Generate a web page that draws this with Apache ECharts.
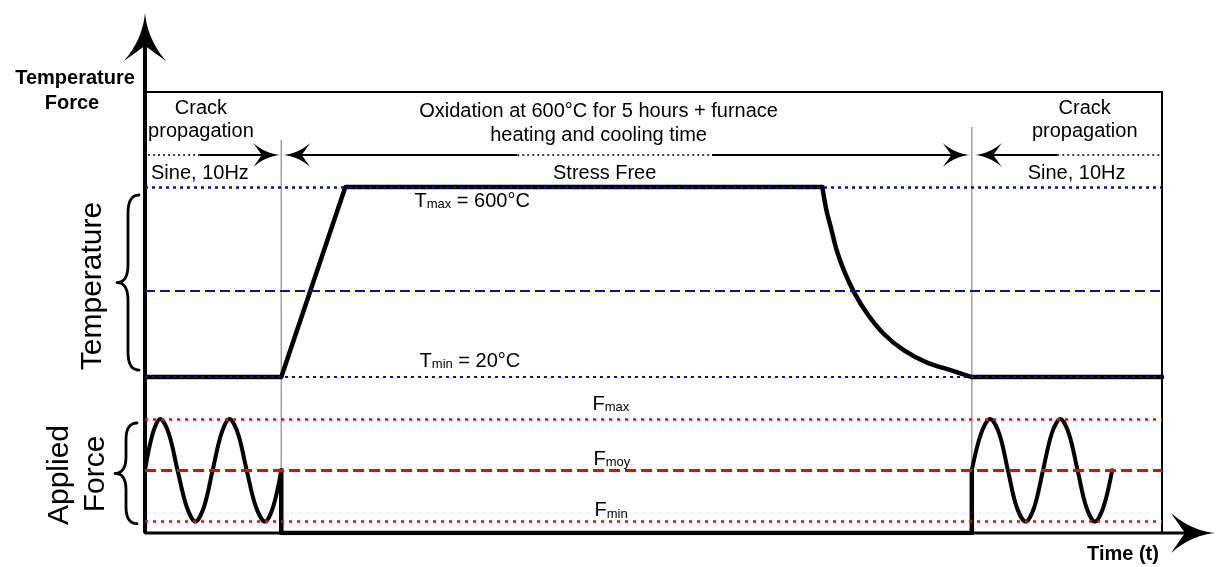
<!DOCTYPE html>
<html>
<head>
<meta charset="utf-8">
<script src="https://cdn.jsdelivr.net/npm/echarts@6/dist/echarts.min.js"></script>
<style>
  html, body { margin: 0; padding: 0; background: #fff; }
  #chart { width: 1219px; height: 567px; }
</style>
</head>
<body>
<div id="chart"></div>
<script>
// Test sequence: crack propagation (sine, 10 Hz) -> stress-free oxidation at 600 °C -> crack propagation.
// Time runs 0–100 in arbitrary units across the box.

// Phase boundaries on the time axis
const PHASE_END_1 = 13.4;
const PHASE_START_2 = 81.3;
const TIME_MAX = 100;

// Temperature levels (°C)
const T_MAX = 600;
const T_MID = 284;
const T_MIN = 20;

// Temperature history: room temperature, heating ramp, hold
const tempHoldX = [0, 13.4, 19.7, 66.6];
const tempHoldY = [20, 20, 600, 600];
// Furnace cooling
const coolingX = [66.6, 67.0, 67.5, 68.0, 68.7, 69.7, 71.0, 72.6, 74.6, 76.9, 79.2, 81.3];
const coolingY = [600, 530, 469, 408, 347, 280, 214, 153, 102, 64, 41, 20];
// Back at room temperature
const tempTailX = [81.3, 100];
const tempTailY = [20, 20];

// Force levels (normalised to Fmax)
const F_MAX = 1.0;
const F_MOY = 0.55;
const F_MIN = 0.1;

// Cyclic loading, first crack-propagation phase
const forceLeftX = [0, 0.75, 1.5, 2.35, 3.2, 4.1, 4.95, 5.8, 6.65, 7.5, 8.3, 9.15, 10.0, 10.9, 11.8, 12.6, 13.4];
const forceLeftY = [0.55, 0.87, 1.0, 0.87, 0.55, 0.23, 0.1, 0.23, 0.55, 0.87, 1.0, 0.87, 0.55, 0.23, 0.1, 0.23, 0.55];
// Unloaded during oxidation
const forceStepX = [13.4, 13.4, 81.3, 81.3];
const forceStepY = [0.55, 0, 0, 0.55];
// Cyclic loading, second crack-propagation phase
const forceRightX = [81.3, 82.2, 83.1, 84.0, 84.85, 85.7, 86.6, 87.45, 88.3, 89.15, 90.0, 90.85, 91.7, 92.55, 93.4, 94.25, 95.1];
const forceRightY = [0.55, 0.87, 1.0, 0.87, 0.55, 0.23, 0.1, 0.23, 0.55, 0.87, 1.0, 0.87, 0.55, 0.23, 0.1, 0.23, 0.55];

const FONT = '"Liberation Sans", Arial, Helvetica, sans-serif';
const BLUE = '#12128a';
const RED = '#ff0000';
const GREY = '#a0a0a0';

const pts = (xs, ys) => xs.map((x, i) => [x, ys[i]]);

const chart = echarts.init(document.getElementById('chart'));

const thick = { color: '#000', width: 4.5, cap: 'round', join: 'round' };
const wave = { color: '#000', width: 4, cap: 'round', join: 'round' };
const quiet = { silent: true, symbol: 'none', label: { show: false }, animation: false };

chart.setOption({
  animation: false,
  grid: {
    left: 145, right: 57, top: 92, bottom: 34,
    show: true, borderColor: '#000', borderWidth: 2, backgroundColor: 'transparent'
  },
  xAxis: { type: 'value', min: 0, max: TIME_MAX, show: false },
  yAxis: [
    { type: 'value', min: -456, max: 890, show: false },
    { type: 'value', min: 0, max: 3.868, show: false }
  ],
  series: [
    {
      type: 'line', yAxisIndex: 0, data: pts(tempHoldX, tempHoldY),
      symbol: 'none', lineStyle: thick, z: 3,
      markLine: Object.assign({}, quiet, {
        data: [
          { yAxis: T_MAX, lineStyle: { color: BLUE, type: [3, 4], width: 2.5 } },
          { yAxis: T_MID, lineStyle: { color: BLUE, type: [10, 5], width: 2 } },
          { yAxis: T_MIN, lineStyle: { color: BLUE, type: [3, 4], width: 2 } }
        ]
      })
    },
    {
      type: 'line', yAxisIndex: 0, data: pts(coolingX, coolingY),
      symbol: 'none', smooth: 0.3, lineStyle: thick, z: 3
    },
    {
      type: 'line', yAxisIndex: 0, data: pts(tempTailX, tempTailY),
      symbol: 'none', lineStyle: thick, z: 3
    },
    {
      type: 'line', yAxisIndex: 1, data: pts(forceLeftX, forceLeftY),
      symbol: 'none', smooth: 0.33, lineStyle: wave, z: 3
    },
    {
      type: 'line', yAxisIndex: 1, data: pts(forceStepX, forceStepY),
      symbol: 'none', lineStyle: thick, z: 3,
      markLine: Object.assign({}, quiet, {
        data: [
          { yAxis: F_MAX, lineStyle: { color: RED, type: [3, 5], width: 2.5 } },
          { yAxis: F_MOY, lineStyle: { color: RED, type: [11, 5], width: 3 } },
          { yAxis: F_MIN, lineStyle: { color: RED, type: [3, 5], width: 2.5 } }
        ]
      })
    },
    {
      type: 'line', yAxisIndex: 1, data: pts(forceRightX, forceRightY),
      symbol: 'none', smooth: 0.33, lineStyle: wave, z: 3
    }
  ]
});

// ---- decorations: axis arrows, phase markers, braces, titles ----
const X = v => chart.convertToPixel({ xAxisIndex: 0 }, v);
const YT = v => chart.convertToPixel({ yAxisIndex: 0 }, v);
const YF = v => chart.convertToPixel({ yAxisIndex: 1 }, v);

function quad(p0, c, p1, n) {
  const out = [];
  for (let i = 1; i <= n; i++) {
    const t = i / n, u = 1 - t;
    out.push([u * u * p0[0] + 2 * u * t * c[0] + t * t * p1[0],
              u * u * p0[1] + 2 * u * t * c[1] + t * t * p1[1]]);
  }
  return out;
}

// Arrowhead with concave flanks and a notched back; tip at (tx, ty)
function arrowHead(tx, ty, angle, L, W) {
  const tip = [0, 0], wa = [-L, -W], notch = [-0.68 * L, 0], wb = [-L, W];
  let p = [tip];
  p = p.concat(quad(tip, [-0.55 * L, -0.12 * W], wa, 12));
  p = p.concat(quad(wa, [-0.78 * L, -0.3 * W], notch, 8));
  p = p.concat(quad(notch, [-0.78 * L, 0.3 * W], wb, 8));
  p = p.concat(quad(wb, [-0.55 * L, 0.12 * W], tip, 12));
  const c = Math.cos(angle), s = Math.sin(angle);
  return {
    type: 'polygon', z: 10,
    shape: { points: p.map(([x, y]) => [tx + x * c - y * s, ty + x * s + y * c]) },
    style: { fill: '#000' }
  };
}

// Curly brace opening to the right, tip pointing left
function brace(xEnd, xBody, xTip, yTop, yBot) {
  const yMid = (yTop + yBot) / 2, r = Math.min(18, (yBot - yTop) / 6);
  let p = [[xEnd, yTop]];
  p = p.concat(quad([xEnd, yTop], [xBody, yTop], [xBody, yTop + r], 8));
  p.push([xBody, yMid - r]);
  p = p.concat(quad([xBody, yMid - r], [xBody, yMid], [xTip, yMid], 8));
  p = p.concat(quad([xTip, yMid], [xBody, yMid], [xBody, yMid + r], 8));
  p.push([xBody, yBot - r]);
  p = p.concat(quad([xBody, yBot - r], [xBody, yBot], [xEnd, yBot], 8));
  return {
    type: 'polyline', z: 10, shape: { points: p },
    style: { stroke: '#000', lineWidth: 2.8, fill: null, lineJoin: 'round', lineCap: 'round' }
  };
}

const seg = (x1, y1, x2, y2, style, z) => ({
  type: 'line', z: z == null ? 6 : z,
  shape: { x1, y1, x2, y2 },
  style: Object.assign({ stroke: '#000', lineWidth: 2 }, style)
});

const txt = (text, x, y, size, opts) => {
  opts = opts || {};
  return {
    type: 'text', x, y, z: 20, rotation: opts.rot || 0,
    style: {
      text,
      font: (opts.bold ? 'bold ' : '') + size + 'px ' + FONT,
      fill: '#000',
      align: opts.align || 'center',
      verticalAlign: 'middle',
      rich: opts.rich
    }
  };
};

const subRich = {
  b: { font: '20px ' + FONT, fill: '#000', verticalAlign: 'bottom' },
  s: { font: '13px ' + FONT, fill: '#000', verticalAlign: 'bottom' }
};
const subText = (main, sub, rest, x, y) =>
  txt('{b|' + main + '}{s|' + sub + '}' + (rest ? '{b|' + rest + '}' : ''), x, y, 20, { align: 'left', rich: subRich });

const x0 = X(0), xB1 = X(PHASE_END_1), xB2 = X(PHASE_START_2), xRight = X(TIME_MAX);
const yBase = YF(0);
const ROW = 155;
const dotted = { lineWidth: 1.5, lineDash: [2, 3] };

const g = [];

// Axes with arrowheads
g.push(seg(x0, yBase, x0, 40, { lineWidth: 4 }, 1));
g.push(arrowHead(x0, 13, -Math.PI / 2, 48, 21));
g.push(seg(x0, yBase, 1195, yBase, { lineWidth: 3 }, 1));
g.push(arrowHead(1215, yBase, 0, 44, 20));

// Phase separators
g.push(seg(xB1, 140, xB1, yBase, { stroke: GREY, lineWidth: 1.5 }, 1));
g.push(seg(xB2, 127, xB2, yBase, { stroke: GREY, lineWidth: 1.5 }, 1));

// Phase duration arrows
g.push(seg(X(0.3), ROW, X(5.4), ROW, dotted));
g.push(seg(X(5.4), ROW, xB1 - 12, ROW));
g.push(arrowHead(xB1 - 1, ROW, 0, 27, 12));
g.push(arrowHead(xB1 + 2, ROW, Math.PI, 27, 12));
g.push(seg(xB1 + 12, ROW, X(36.6), ROW));
g.push(seg(X(36.6), ROW, X(55.75), ROW, dotted));
g.push(seg(X(55.75), ROW, xB2 - 12, ROW));
g.push(arrowHead(xB2 - 2, ROW, 0, 27, 12));
g.push(arrowHead(xB2 + 3, ROW, Math.PI, 27, 12));
g.push(seg(xB2 + 13, ROW, X(89.7), ROW));
g.push(seg(X(89.7), ROW, xRight, ROW, dotted));

// Phase annotations
g.push(txt('Crack', X(5.5), 108, 20));
g.push(txt('propagation', X(5.5), 131, 20));
g.push(txt('Sine, 10Hz', X(5.4), 173, 20));
g.push(txt('Oxidation at 600°C for 5 hours + furnace', X(44.6), 111, 20));
g.push(txt('heating and cooling time', X(44.6), 135, 20));
g.push(txt('Stress Free', X(45.2), 173, 20));
g.push(txt('Crack', X(92.4), 108, 20));
g.push(txt('propagation', X(92.4), 131, 20));
g.push(txt('Sine, 10Hz', X(91.6), 173, 20));

// Level labels
g.push(subText('T', 'max', ' = 600°C', X(26.5), YT(T_MAX) + 14));
g.push(subText('T', 'min', ' = 20°C', X(27.0), YT(T_MIN) - 16));
g.push(subText('F', 'max', '', X(44.0), YF(F_MAX) - 15));
g.push(subText('F', 'moy', '', X(44.1), YF(F_MOY) - 11));
g.push(subText('F', 'min', '', X(44.2), YF(F_MIN) - 11));

// Axis titles
g.push(txt('Temperature', 75, 78, 20, { bold: true }));
g.push(txt('Force', 72, 103, 20, { bold: true }));
g.push(txt('Time (t)', 1123, 554, 20, { bold: true }));

// Range braces and their captions
g.push(brace(139, 128, 117, YT(T_MAX) + 8, YT(T_MIN) - 7));
g.push(brace(137, 126, 115, YF(F_MAX) + 4, YF(F_MIN) + 2));
g.push(txt('Temperature', 93, 286, 30, { rot: Math.PI / 2 }));
g.push(txt('Applied', 60, 475, 30, { rot: Math.PI / 2 }));
g.push(txt('Force', 96, 474, 30, { rot: Math.PI / 2 }));

chart.setOption({ graphic: { elements: g } });
</script>
</body>
</html>
